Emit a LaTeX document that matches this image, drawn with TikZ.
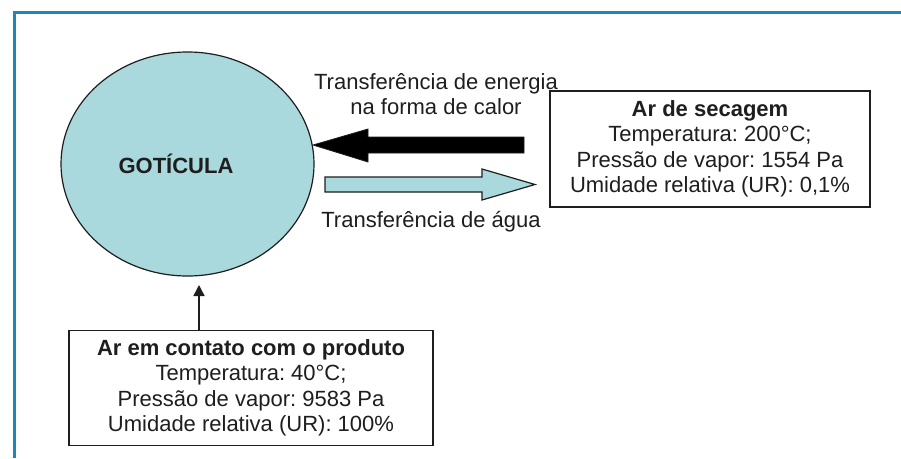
\documentclass[tikz,border=0pt]{standalone}
\usepackage{fontspec}
\setmainfont{Liberation Sans}
\usetikzlibrary{shapes.geometric,arrows.meta}
\frenchspacing
\definecolor{frameblue}{HTML}{1F86BA}
\definecolor{droplet}{HTML}{A9D9DD}
\definecolor{ink}{HTML}{1E1E1E}
\tikzset{
  txt/.style={font=\fontsize{22}{25.5}\selectfont\frenchspacing, text=ink, inner sep=0pt},
  infobox/.style={txt, draw=ink, line width=1.5pt, align=center, fill=white},
}
\begin{document}
\begin{tikzpicture}[x=1pt,y=-1pt]
\useasboundingbox[fill=white] (0,0) rectangle (901,458);
% frame
\draw[frameblue, line width=3pt] (14.5,458) -- (14.5,12) -- (901,12);
% droplet
\node[ellipse, draw=ink, line width=1.2pt, fill=droplet, minimum width=253pt, minimum height=224pt, inner sep=0pt] (drop) at (187.5,164) {};
\node[txt, font=\fontsize{22}{25.5}\selectfont\bfseries] (droplbl) at (176,164) {GOTÍCULA};
% heat arrow
\filldraw[fill=black, draw=ink, line width=0.8pt]
  (313,145) -- (368,129) -- (368,137) -- (524,137) -- (524,153) -- (368,153) -- (368,162) -- cycle;
% water arrow
\filldraw[fill=droplet, draw=ink, line width=1.2pt]
  (325,177) -- (482,177) -- (482,169) -- (535,184.5) -- (482,200) -- (482,192) -- (325,192) -- cycle;
% labels
\node[txt, align=center] (heatlbl) at (436,94) {Transferência de energia\\na forma de calor};
\node[txt, anchor=base] (waterlbl) at (431,227) {Transferência de água};
% boxes
\node[infobox, minimum width=320pt, minimum height=116pt] (dry) at (710,149)
  {{\bfseries Ar de secagem}\\Temperatura: 200°C;\\Pressão de vapor: 1554 Pa\\Umidade relativa (UR): 0,1\%};
\node[infobox, minimum width=364pt, minimum height=115pt] (prod) at (251,388)
  {{\bfseries Ar em contato com o produto}\\Temperatura: 40°C;\\Pressão de vapor: 9583 Pa\\Umidade relativa (UR): 100\%};
% up arrow
\coordinate (uptip) at (199,285);
\draw[ink, line width=1.4pt, -{Triangle[length=11pt,width=11pt]}] (prod.north -| uptip) -- (uptip);
\end{tikzpicture}
\end{document}
